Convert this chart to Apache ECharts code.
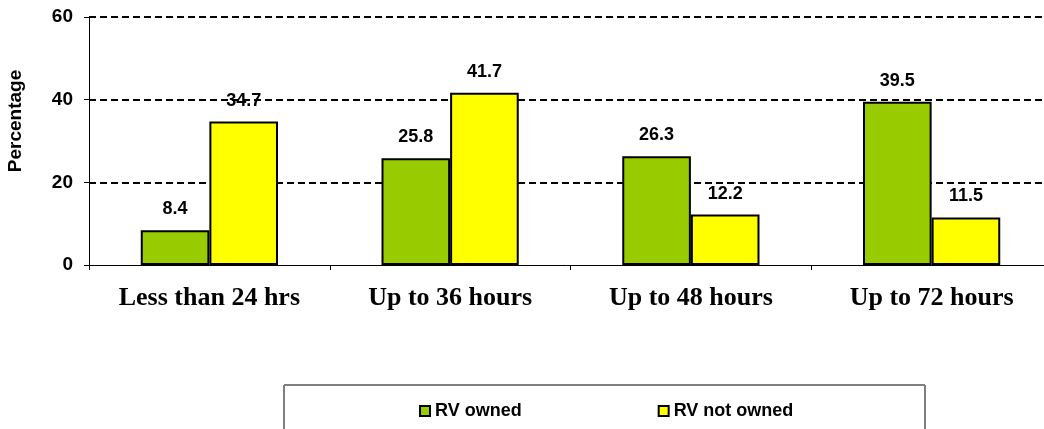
<!DOCTYPE html>
<html>
<head>
<meta charset="utf-8">
<script src="https://cdn.jsdelivr.net/npm/echarts@6/dist/echarts.min.js"></script>
<style>
  html, body { margin: 0; padding: 0; background: #fff; }
  #chart { width: 1044px; height: 429px; }
</style>
</head>
<body>
<div id="chart"></div>
<script>
const categories = ['Less than 24 hrs', 'Up to 36 hours', 'Up to 48 hours', 'Up to 72 hours'];
const rvOwned = [8.4, 25.8, 26.3, 39.5];
const rvNotOwned = [34.7, 41.7, 12.2, 11.5];
const yTicks = [0, 20, 40, 60];

const chart = echarts.init(document.getElementById('chart'));

// value labels above each bar
const labelStyle = {
  show: true,
  position: 'top',
  distance: 12,
  color: '#000',
  fontFamily: 'Liberation Sans, Arial',
  fontWeight: 'bold',
  fontSize: 18,
  formatter: (p) => p.value.toFixed(1),
};

const option = {
  backgroundColor: '#fff',
  animation: false,
  // plot area runs a little past the right edge, as in the reference
  grid: { left: 89, top: 17, right: -8, bottom: 164, outerBoundsMode: 'none' },
  graphic: [
    {
      type: 'rect',
      shape: { x: 284, y: 385, width: 641, height: 70 },
      style: { fill: '#fff', stroke: '#000', lineWidth: 1 },
      z: 0,
    },
    {
      type: 'line',
      shape: { x1: 284, y1: 385, x2: 925, y2: 385 },
      style: { stroke: '#808080', lineWidth: 2 },
      z: 1,
    },
  ],
  legend: {
    data: ['RV owned', 'RV not owned'],
    left: 414,
    top: 397,
    icon: 'rect',
    itemWidth: 10,
    itemHeight: 10,
    itemGap: 136,
    textStyle: {
      color: '#000',
      fontFamily: 'Liberation Sans, Arial',
      fontWeight: 'bold',
      fontSize: 18,
    },
    z: 5,
  },
  xAxis: {
    type: 'category',
    data: categories,
    axisLine: { lineStyle: { color: '#000', width: 1 } },
    axisTick: { show: true, length: 5, lineStyle: { color: '#000' } },
    axisLabel: {
      color: '#000',
      fontFamily: 'Liberation Serif, Times New Roman',
      fontWeight: 'bold',
      fontSize: 26,
      margin: 20,
    },
  },
  yAxis: {
    type: 'value',
    min: yTicks[0],
    max: yTicks[yTicks.length - 1],
    interval: 20,
    name: 'Percentage',
    nameLocation: 'middle',
    nameGap: 64,
    nameRotate: 90,
    nameTextStyle: {
      color: '#000',
      fontFamily: 'Liberation Sans, Arial',
      fontWeight: 'bold',
      fontSize: 19,
      padding: [0, 0, 0, 40],
    },
    axisLine: { show: true, lineStyle: { color: '#000', width: 1 } },
    axisTick: { show: true, length: 5, lineStyle: { color: '#000' } },
    axisLabel: {
      color: '#000',
      fontFamily: 'Liberation Sans, Arial',
      fontWeight: 'bold',
      fontSize: 19,
      margin: 16,
    },
    splitLine: {
      show: true,
      showMinLine: false,
      lineStyle: { color: '#000', type: [7, 4], width: 2 },
    },
  },
  series: [
    {
      name: 'RV owned',
      type: 'bar',
      data: rvOwned,
      barGap: '0%',
      barCategoryGap: '43%',
      itemStyle: { color: '#99CC00', borderColor: '#000', borderWidth: 2 },
      label: labelStyle,
    },
    {
      name: 'RV not owned',
      type: 'bar',
      data: rvNotOwned,
      itemStyle: { color: '#FFFF00', borderColor: '#000', borderWidth: 2 },
      label: labelStyle,
    },
  ],
};

chart.setOption(option);
</script>
</body>
</html>
